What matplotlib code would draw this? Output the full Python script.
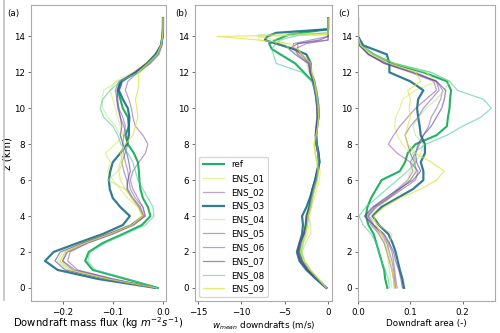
import numpy as np
import matplotlib.pyplot as plt
from matplotlib.lines import Line2D

# 高度 (km)
z = [0, 0.5, 1, 1.5, 2, 2.5, 3, 3.5, 4, 4.5, 5, 5.5, 6, 6.5, 7, 7.5, 8, 8.5, 9, 9.5,
     10, 10.5, 11, 11.5, 12, 12.5, 13, 13.5, 14, 14.5, 15]
# panel (b) 顶部更密
z_b = [0, 0.5, 1, 1.5, 2, 2.5, 3, 3.5, 4, 4.5, 5, 5.5, 6, 6.5, 7, 7.5, 8, 8.5, 9, 9.5,
       10, 10.5, 11, 11.5, 12, 12.5, 13.0, 13.3, 13.6, 13.8, 14.0, 14.1, 14.2, 14.4, 15.0]

names = ['ref', 'ENS_01', 'ENS_02', 'ENS_03', 'ENS_04', 'ENS_05', 'ENS_06', 'ENS_07', 'ENS_08', 'ENS_09']

# (a) downdraft mass flux
mf_ref = [-0.010, -0.075, -0.140, -0.155, -0.148, -0.120, -0.080, -0.042, -0.025, -0.030, -0.040, -0.045, -0.047, -0.048, -0.050, -0.058,
          -0.070, -0.075, -0.068, -0.070, -0.080, -0.085, -0.090, -0.085, -0.050, -0.030, -0.013, -0.004, -0.001, 0, 0]
mf_01 = [-0.014, -0.110, -0.185, -0.205, -0.195, -0.160, -0.110, -0.065, -0.042, -0.050, -0.070, -0.085, -0.100, -0.110, -0.105, -0.115,
         -0.095, -0.080, -0.085, -0.090, -0.095, -0.100, -0.105, -0.095, -0.060, -0.035, -0.015, -0.005, -0.001, 0, 0]
mf_02 = [-0.015, -0.105, -0.180, -0.200, -0.190, -0.150, -0.100, -0.060, -0.035, -0.040, -0.055, -0.065, -0.068, -0.070, -0.075, -0.078,
         -0.080, -0.078, -0.075, -0.080, -0.088, -0.092, -0.095, -0.088, -0.055, -0.030, -0.012, -0.004, -0.001, 0, 0]
mf_03 = [-0.015, -0.130, -0.210, -0.235, -0.218, -0.170, -0.120, -0.080, -0.066, -0.085, -0.100, -0.106, -0.108, -0.105, -0.100, -0.085,
         -0.072, -0.068, -0.068, -0.067, -0.070, -0.080, -0.088, -0.082, -0.055, -0.032, -0.015, -0.004, -0.001, 0, 0]
mf_04 = [-0.014, -0.115, -0.190, -0.210, -0.200, -0.160, -0.110, -0.062, -0.040, -0.045, -0.060, -0.075, -0.110, -0.090, -0.085, -0.080,
         -0.078, -0.085, -0.095, -0.110, -0.120, -0.122, -0.118, -0.090, -0.045, -0.025, -0.010, -0.003, -0.001, 0, 0]
mf_05 = [-0.015, -0.100, -0.170, -0.190, -0.185, -0.150, -0.100, -0.058, -0.036, -0.040, -0.050, -0.060, -0.065, -0.060, -0.048, -0.035,
         -0.030, -0.040, -0.055, -0.060, -0.063, -0.068, -0.075, -0.070, -0.050, -0.025, -0.008, -0.002, 0, 0, 0]
mf_06 = [-0.015, -0.100, -0.175, -0.200, -0.192, -0.155, -0.105, -0.060, -0.038, -0.045, -0.060, -0.070, -0.072, -0.078, -0.082, -0.075,
         -0.070, -0.072, -0.078, -0.085, -0.088, -0.090, -0.092, -0.085, -0.055, -0.028, -0.010, -0.003, 0, 0, 0]
mf_07 = [-0.015, -0.115, -0.195, -0.215, -0.205, -0.160, -0.110, -0.065, -0.040, -0.048, -0.062, -0.072, -0.070, -0.065, -0.068, -0.072,
         -0.080, -0.085, -0.082, -0.085, -0.090, -0.092, -0.090, -0.085, -0.055, -0.030, -0.012, -0.004, -0.001, 0, 0]
mf_08 = [-0.010, -0.070, -0.135, -0.150, -0.145, -0.115, -0.075, -0.035, -0.018, -0.020, -0.030, -0.040, -0.050, -0.055, -0.060, -0.070,
         -0.084, -0.090, -0.100, -0.118, -0.125, -0.120, -0.105, -0.085, -0.050, -0.028, -0.010, -0.003, -0.001, 0, 0]
mf_09 = [-0.014, -0.110, -0.185, -0.205, -0.195, -0.155, -0.105, -0.062, -0.040, -0.050, -0.062, -0.075, -0.085, -0.088, -0.080, -0.085,
         -0.075, -0.060, -0.055, -0.050, -0.052, -0.055, -0.050, -0.048, -0.050, -0.030, -0.012, -0.004, -0.001, 0, 0]

# (b) w_mean downdrafts (m/s)
w_ref = [-0.2, -1.3, -2.3, -3.0, -3.3, -3.1, -2.8, -2.6, -2.5, -2.2, -2.0, -1.8, -1.5, -1.3, -1.0, -1.1, -1.3, -1.4, -1.3, -1.2,
         -1.2, -1.3, -1.5, -1.8, -2.8, -3.8, -5.5, -6.5, -6.8, -6.0, -5.0, -4.5, -3.0, 0, 0]
w_01 = [-0.2, -1.1, -2.0, -2.7, -3.0, -2.8, -2.4, -2.2, -2.1, -1.9, -1.6, -1.3, -1.0, -0.9, -1.2, -1.5, -1.6, -1.4, -1.2, -1.0,
        -1.1, -1.2, -1.3, -1.5, -1.8, -2.0, -3.0, -4.0, -5.5, -8.0, -8.0, 0, 0, 0, 0]
w_02 = [-0.2, -1.2, -2.2, -3.0, -3.4, -3.2, -2.7, -2.5, -2.4, -2.1, -1.9, -1.7, -1.4, -1.2, -1.0, -1.2, -1.4, -1.4, -1.3, -1.2,
        -1.3, -1.4, -1.5, -1.7, -2.0, -2.2, -3.0, -3.5, -3.5, 0, 0, 0, 0, 0, 0]
w_03 = [-0.2, -1.4, -2.5, -3.3, -3.6, -3.3, -3.0, -2.9, -3.0, -2.5, -2.1, -1.8, -1.5, -1.2, -1.0, -1.1, -1.3, -1.4, -1.3, -1.1,
        -1.1, -1.2, -1.4, -1.6, -2.0, -2.0, -2.5, -4.0, -6.0, -7.3, -7.0, -6.5, -6.0, 0, 0]
w_04 = [-0.2, -1.1, -2.0, -2.7, -3.0, -2.6, -2.0, -2.0, -2.3, -2.0, -1.8, -1.6, -1.3, -1.2, -1.3, -1.5, -1.6, -1.4, -1.2, -1.1,
        -1.2, -1.3, -1.4, -1.6, -2.2, -2.5, -3.5, -4.5, -5.0, -6.0, -8.0, -8.1, 0, 0, 0]
w_05 = [-0.2, -1.3, -2.3, -3.1, -3.5, -3.2, -2.7, -2.4, -2.3, -2.0, -1.8, -1.6, -1.3, -1.1, -1.0, -1.1, -1.3, -1.3, -1.2, -1.1,
        -1.2, -1.3, -1.5, -1.7, -2.1, -2.2, -3.5, -3.8, -2.5, 0, 0, 0, 0, 0, 0]
w_06 = [-0.2, -1.2, -2.2, -3.0, -3.4, -3.2, -2.8, -2.5, -2.4, -2.1, -1.9, -1.7, -1.4, -1.2, -1.1, -1.2, -1.4, -1.4, -1.3, -1.2,
        -1.3, -1.4, -1.5, -1.7, -2.0, -2.0, -3.2, -4.0, -4.0, -2.0, 0, 0, 0, 0, 0]
w_07 = [-0.2, -1.3, -2.4, -3.2, -3.5, -3.3, -2.8, -2.6, -2.5, -2.2, -2.0, -1.8, -1.5, -1.3, -1.1, -1.2, -1.4, -1.5, -1.4, -1.3,
        -1.3, -1.4, -1.6, -1.8, -2.1, -2.3, -3.8, -4.5, -3.5, -1.0, 0, 0, 0, 0, 0]
w_08 = [-0.2, -1.2, -2.1, -2.8, -3.1, -2.9, -2.6, -2.4, -2.3, -2.1, -1.9, -1.7, -1.4, -1.2, -1.1, -1.2, -1.3, -1.3, -1.2, -1.1,
        -1.2, -1.3, -1.5, -1.9, -3.0, -6.0, -6.3, -6.5, -6.0, -5.5, -4.0, -3.0, 0, 0, 0]
w_09 = [-0.2, -1.1, -2.1, -2.8, -3.2, -3.0, -2.6, -2.4, -2.3, -2.0, -1.8, -1.5, -1.2, -1.1, -1.3, -1.5, -1.6, -1.4, -1.2, -1.1,
        -1.1, -1.2, -1.4, -1.6, -1.9, -2.0, -3.0, -3.5, -4.5, -8.0, -12.8, 0, 0, 0, 0]

# (c) downdraft area (-)
ar_ref = [0.056, 0.052, 0.050, 0.045, 0.040, 0.035, 0.030, 0.020, 0.015, 0.018, 0.025, 0.035, 0.045, 0.080, 0.090, 0.095,
          0.110, 0.150, 0.170, 0.172, 0.175, 0.176, 0.178, 0.170, 0.125, 0.065, 0.030, 0.005, 0, 0, 0]
ar_01 = [0.070, 0.068, 0.065, 0.060, 0.055, 0.050, 0.040, 0.030, 0.025, 0.040, 0.060, 0.080, 0.100, 0.110, 0.105, 0.100,
         0.085, 0.075, 0.070, 0.072, 0.080, 0.085, 0.110, 0.150, 0.130, 0.070, 0.030, 0.005, 0, 0, 0]
ar_02 = [0.070, 0.068, 0.065, 0.060, 0.055, 0.050, 0.040, 0.025, 0.015, 0.030, 0.055, 0.075, 0.095, 0.105, 0.100, 0.110,
         0.118, 0.125, 0.135, 0.140, 0.150, 0.158, 0.162, 0.150, 0.110, 0.055, 0.020, 0.003, 0, 0, 0]
ar_03 = [0.088, 0.085, 0.080, 0.076, 0.072, 0.066, 0.058, 0.040, 0.028, 0.045, 0.075, 0.105, 0.125, 0.125, 0.120, 0.128,
         0.128, 0.120, 0.118, 0.115, 0.113, 0.115, 0.125, 0.100, 0.060, 0.060, 0.055, 0.010, 0, 0, 0]
ar_04 = [0.065, 0.062, 0.060, 0.058, 0.055, 0.060, 0.065, 0.040, 0.020, 0.035, 0.055, 0.080, 0.095, 0.100, 0.110, 0.120,
         0.125, 0.110, 0.105, 0.115, 0.130, 0.150, 0.165, 0.175, 0.140, 0.070, 0.030, 0.005, 0, 0, 0]
ar_05 = [0.075, 0.072, 0.070, 0.068, 0.065, 0.058, 0.048, 0.030, 0.020, 0.035, 0.060, 0.085, 0.110, 0.115, 0.100, 0.075,
         0.058, 0.068, 0.080, 0.095, 0.110, 0.130, 0.150, 0.145, 0.100, 0.050, 0.020, 0.003, 0, 0, 0]
ar_06 = [0.072, 0.070, 0.068, 0.065, 0.060, 0.055, 0.045, 0.028, 0.018, 0.032, 0.058, 0.080, 0.100, 0.112, 0.108, 0.100,
         0.095, 0.090, 0.100, 0.115, 0.125, 0.140, 0.155, 0.150, 0.105, 0.055, 0.020, 0.003, 0, 0, 0]
ar_07 = [0.085, 0.082, 0.078, 0.072, 0.068, 0.060, 0.050, 0.030, 0.012, 0.028, 0.052, 0.078, 0.105, 0.120, 0.112, 0.110,
         0.115, 0.125, 0.140, 0.150, 0.160, 0.165, 0.168, 0.150, 0.105, 0.050, 0.020, 0.003, 0, 0, 0]
ar_08 = [0.060, 0.058, 0.052, 0.045, 0.040, 0.035, 0.025, 0.010, 0.002, 0.015, 0.035, 0.055, 0.075, 0.095, 0.110, 0.105,
         0.130, 0.170, 0.200, 0.235, 0.255, 0.240, 0.190, 0.175, 0.140, 0.070, 0.030, 0.005, 0, 0, 0]
ar_09 = [0.070, 0.068, 0.065, 0.062, 0.058, 0.052, 0.045, 0.035, 0.030, 0.050, 0.080, 0.120, 0.150, 0.165, 0.140, 0.110,
         0.095, 0.090, 0.095, 0.100, 0.098, 0.100, 0.095, 0.120, 0.110, 0.060, 0.025, 0.005, 0, 0, 0]

mf_all = [mf_ref, mf_01, mf_02, mf_03, mf_04, mf_05, mf_06, mf_07, mf_08, mf_09]
w_all = [w_ref, w_01, w_02, w_03, w_04, w_05, w_06, w_07, w_08, w_09]
ar_all = [ar_ref, ar_01, ar_02, ar_03, ar_04, ar_05, ar_06, ar_07, ar_08, ar_09]

# 线型
colors = ['#22b35e', '#d8e85a', '#7a5aa8', '#1c6f85', '#b4e27a', '#8a4f9a',
          '#6f55aa', '#5a3f92', '#45c9a2', '#dde33a']
alphas = [1.0, 0.6, 0.55, 0.9, 0.55, 0.55, 0.55, 0.6, 0.6, 0.7]
widths = [1.5, 0.9, 0.9, 1.6, 0.9, 0.9, 0.9, 0.9, 0.9, 0.9]

plt.rcParams['font.size'] = 6
fig = plt.figure(figsize=(5, 3.33), dpi=100)
ax_a = fig.add_axes([0.062, 0.095, 0.270, 0.890])
ax_b = fig.add_axes([0.390, 0.095, 0.274, 0.890])
ax_c = fig.add_axes([0.716, 0.095, 0.274, 0.890])

for i, name in enumerate(names):
    kw = dict(color=colors[i], alpha=alphas[i], lw=widths[i])
    ax_a.plot(mf_all[i], z, **kw)
    ax_b.plot(w_all[i], z_b, label=name, **kw)
    ax_c.plot(ar_all[i], z, **kw)

ax_a.set_xlim(-0.263, 0.006)
ax_b.set_xlim(-15.35, 0.45)
ax_c.set_xlim(0, 0.262)
ax_a.set_xticks([-0.2, -0.1, 0.0])
ax_b.set_xticks([-15, -10, -5, 0])
ax_c.set_xticks([0.0, 0.1, 0.2])

for ax in (ax_a, ax_b, ax_c):
    ax.set_ylim(-0.75, 15.75)
    ax.set_yticks(range(0, 15, 2))
    for s in ax.spines.values():
        s.set_color('#aaaaaa')
    ax.tick_params(labelsize=6.3, length=2.5, width=0.6, color='#555555', pad=2)

ax_a.set_ylabel('z (km)', fontsize=7.5)
ax_a.yaxis.set_label_coords(-0.135, 0.5)
ax_a.set_xlabel('Downdraft mass flux (kg $m^{-2}s^{-1}$)', fontsize=7.3)
ax_a.xaxis.set_label_coords(0.5, -0.047)
ax_b.set_xlabel('$w_{mean}$ downdrafts (m/s)', fontsize=6.3, labelpad=2)
ax_c.set_xlabel('Downdraft area (-)', fontsize=6.3, labelpad=2)

fig.text(0.014, 0.952, '(a)', fontsize=6.3)
fig.text(0.350, 0.952, '(b)', fontsize=6.3)
fig.text(0.676, 0.952, '(c)', fontsize=6.3)

ax_b.legend(loc='lower left', fontsize=6.3, handlelength=2.4, labelspacing=0.55, framealpha=0.8)

# 左侧灰边
fig.add_artist(Line2D([0.008, 0.008], [0.1, 1.0], color='#c0c0c0', lw=1.2))

fig.savefig('out.png', dpi=100)
